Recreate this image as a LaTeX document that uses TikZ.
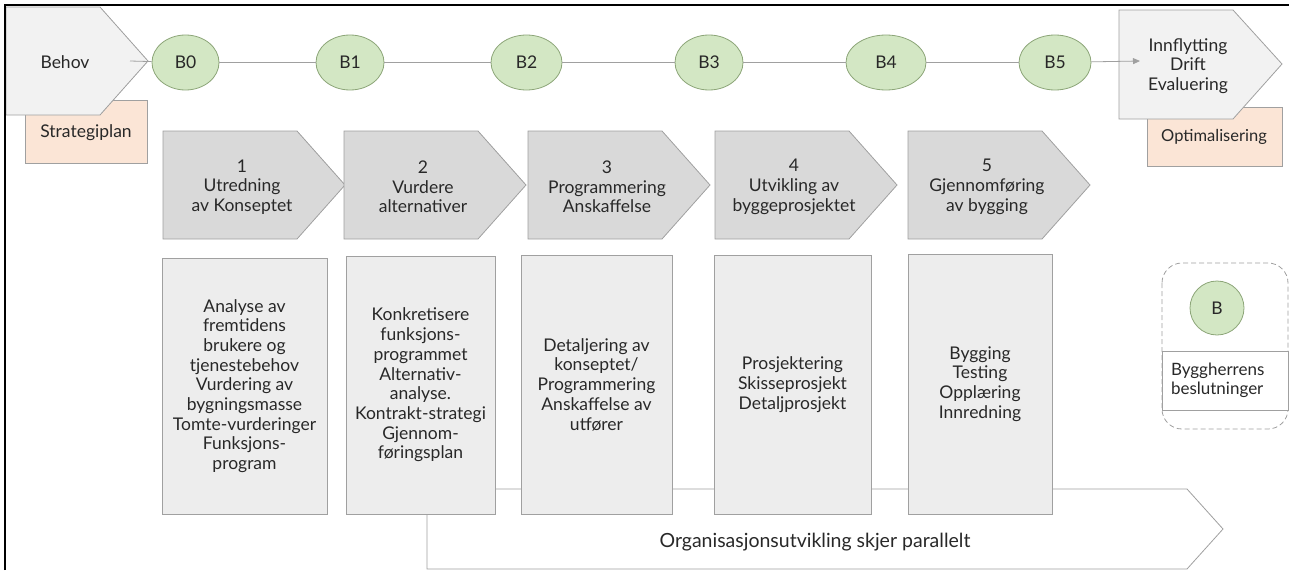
\documentclass[tikz,border=0pt]{standalone}
\usepackage{fontspec}
\setmainfont{Lato}
\usepackage{tikz}
\usetikzlibrary{shapes.geometric, arrows.meta}
\definecolor{lineGray}{RGB}{160,160,160}
\definecolor{textGray}{RGB}{40,40,40}
\definecolor{phaseFill}{RGB}{217,217,217}
\definecolor{descFill}{RGB}{237,237,237}
\definecolor{lightFill}{RGB}{242,242,242}
\definecolor{peach}{RGB}{251,229,214}
\definecolor{greenFill}{RGB}{211,231,196}
\definecolor{greenLine}{RGB}{140,165,120}

\begin{document}
\begin{tikzpicture}[x=1pt, y=-1pt,
    every node/.style={text=textGray, font=\fontsize{17.5}{19.7}\selectfont},
    milestone/.style={ellipse, draw=greenLine, fill=greenFill, line width=0.8, minimum height=55, inner sep=0pt},
    phase/.style={draw=lineGray, fill=phaseFill, line width=0.8},
    descbox/.style={rectangle, draw=lineGray, fill=descFill, line width=0.8, align=center, inner sep=0pt},
    note/.style={rectangle, draw=lineGray, fill=peach, line width=0.8},
    link/.style={lineGray, line width=0.8}]
    \useasboundingbox (0,0) rectangle (1289,570);

    % Notes under the start and end boxes
    \node[note, minimum width=122, minimum height=63] (strategi) at (86,131.5) {};
    \node[note, minimum width=135, minimum height=59] (optim) at (1214.5,136.5) {};
    \node (strategitxt) at (86,133) {Strategiplan};
    \node[font=\fontsize{16.5}{19}\selectfont] (optimtxt) at (1214,137) {Optimalisering};

    % Start and end of the process
    \draw[phase, fill=lightFill] (6,7) -- (100,7) -- (148,61) -- (100,115) -- (6,115) -- cycle;
    \node (behov) at (65,62) {Behov};
    \coordinate (behovout) at (130,61);
    \draw[phase, fill=lightFill] (1119,10) -- (1233,10) -- (1282,64) -- (1233,119) -- (1119,119) -- cycle;
    \node[align=center] (innflytting) at (1188,66) {Innflytting\\Drift\\Evaluering};
    \coordinate (innin) at (1140,61);

    % Decision points B0 to B5
    \foreach \n/\x/\w in {0/185.5/67, 1/350/68, 2/526.5/71, 3/709/68, 4/886/80, 5/1055/72}
        \node[milestone, minimum width=\w] (b\n) at (\x,62.5) {B\n};
    \draw[link] (behovout) -- (b0);
    \foreach \a/\b in {0/1, 1/2, 2/3, 3/4, 4/5}
        \draw[link] (b\a) -- (b\b);
    \draw[link, -{Triangle[length=7, width=6]}] (b5) -- (innin);

    % Phases 1 to 5
    \foreach \x/\n/\txt in {163/1/{Utredning\\av Konseptet}, 344/2/{Vurdere\\alternativer},
        528/3/{Programmering\\Anskaffelse}, 715/4/{Utvikling av\\byggeprosjektet},
        908/5/{Gjennomføring\\av bygging}} {
        \draw[phase] (\x,131) -- (\x+134,131) -- (\x+182,185) -- (\x+134,239) -- (\x,239) -- cycle;
        \node[align=center] (p\n) at (\x+79,187) {\n\\\txt};
    }

    % Parallel track along the bottom
    \draw[link, fill=white] (427,569) -- (427,489) -- (1187,489) -- (1223,529) -- (1187,569) -- cycle;
    \node[font=\fontsize{19.5}{22}\selectfont] (org) at (815,542) {Organisasjonsutvikling skjer parallelt};

    % Contents of each phase
    \node[descbox, minimum width=165, minimum height=256] (d1) at (244.5,386)
        {Analyse av\\fremtidens\\brukere og\\tjenestebehov\\Vurdering av\\bygningsmasse\\Tomte-vurderinger\\Funksjons-\\program};
    \node[descbox, minimum width=149, minimum height=258] (d2) at (420.5,385)
        {Konkretisere\\funksjons-\\programmet\\Alternativ-\\analyse.\\Kontrakt-strategi\\Gjennom-\\føringsplan};
    \node[descbox, minimum width=151, minimum height=259] (d3) at (596.5,384.5)
        {Detaljering av\\konseptet/\\Programmering\\Anskaffelse av\\utfører};
    \node[descbox, minimum width=157, minimum height=259] (d4) at (792.5,384.5)
        {Prosjektering\\Skisseprosjekt\\Detaljprosjekt};
    \node[descbox, minimum width=144, minimum height=260] (d5) at (980,384)
        {Bygging\\Testing\\Opplæring\\Innredning};

    % Legend
    \draw[lineGray, line width=0.8, dash pattern=on 5pt off 3pt, rounded corners=20] (1162,263) rectangle (1288,429);
    \node[milestone, circle, minimum size=54] (bkey) at (1217,308) {B};
    \node[rectangle, draw=lineGray, fill=white, line width=0.8, minimum width=126, minimum height=59,
        text width=108, inner xsep=9, align=left, font=\fontsize{17}{19.5}\selectfont] (bkeytxt) at (1225,380.5)
        {Byggherrens\\beslutninger};

    % Frame
    \draw[black, line width=2] (5,570) -- (5,5) -- (1289,5);
\end{tikzpicture}
\end{document}
